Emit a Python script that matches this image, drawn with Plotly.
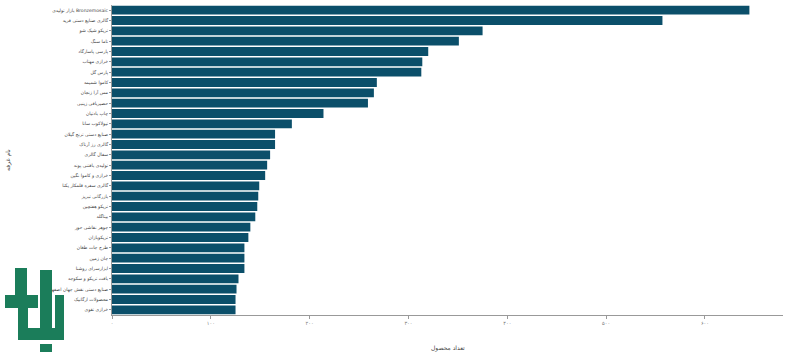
import plotly.graph_objects as go

booths = [
    "بازار تولیدی Bronzemosaic",
    "گالری صنایع دستی فرید",
    "تریکو شیک شو",
    "تاما سنگ",
    "پارسی پاسارگاد",
    "خرازی مهتاب",
    "پارس گل",
    "کاموا شمیمه",
    "مس آرا زنجان",
    "حصیربافی زینبی",
    "چاپ بادتیان",
    "تیولاکوب سانا",
    "صنایع دستی ترنج گیلان",
    "گالری رز آرتاک",
    "سفال گالری",
    "تولیدی بافتنی پونه",
    "خرازی و کاموا نگین",
    "گالری سفره قلمکار یکتا",
    "بازرگانی تبریز",
    "تریکو هفتچین",
    "بیتاگلد",
    "جوهر نقاشی حور",
    "تریکوبازان",
    "طرح جات طغان",
    "جان زمین",
    "ابزارسرای روشنا",
    "بافت تریکو و سکوجه",
    "صنایع دستی نقش جهان اصفهان",
    "محصولات ارگانیک",
    "خرازی تقوی",
]
counts = [645, 557, 375, 351, 320, 314, 313, 268, 265, 259,
          214, 182, 165, 165, 160, 157, 155, 149, 148, 147,
          145, 140, 138, 134, 134, 134, 128, 126, 125, 125]
tick_vals = [0, 100, 200, 300, 400, 500, 600]
tick_text = ["۰", "۱۰۰", "۲۰۰", "۳۰۰", "۴۰۰", "۵۰۰", "۶۰۰"]

W, H = 800, 356
ML, MR, MT, MB = 112, 17, 5, 41
PW, PH = W - ML - MR, H - MT - MB


def px_rect(x0, y0, x1, y1, color):
    # decorative watermark logo, placed in page pixels
    return dict(type="rect", xref="paper", yref="paper", layer="above",
                x0=(x0 - ML) / PW, x1=(x1 - ML) / PW,
                y0=(H - MB - y1) / PH, y1=(H - MB - y0) / PH,
                fillcolor=color, line=dict(width=0))


logo_green = "#1b7d5a"
logo = [
    px_rect(40, 270, 52, 340, logo_green),
    px_rect(55, 295, 64, 338, logo_green),
    px_rect(18, 328, 64, 340, logo_green),
    px_rect(18, 300, 28, 340, logo_green),
    px_rect(5, 295, 38, 308, logo_green),
    px_rect(15, 268, 27, 295, logo_green),
    px_rect(40, 344, 52, 352, logo_green),
]

fig = go.Figure(go.Bar(
    x=counts, y=booths, orientation="h",
    marker=dict(color="#0b4f6a", line=dict(width=0)),
))

fig.update_layout(
    width=W, height=H,
    margin=dict(l=ML, r=MR, t=MT, b=MB),
    paper_bgcolor="white", plot_bgcolor="white",
    font=dict(family="DejaVu Sans", size=5, color="#555"),
    bargap=0.15,
    showlegend=False,
    shapes=logo,
    annotations=[
        dict(text="تعداد محصول", x=0.5, y=-0.107, xref="paper", yref="paper",
             xanchor="center", yanchor="middle", showarrow=False,
             font=dict(size=6, color="#444")),
        dict(text="نام غرفه", x=-0.155, y=0.5, xref="paper", yref="paper",
             xanchor="center", yanchor="middle", showarrow=False, textangle=-90,
             font=dict(size=6, color="#444")),
    ],
)
fig.update_xaxes(
    range=[0, 679], tickvals=tick_vals, ticktext=tick_text,
    showgrid=False, zeroline=False, automargin=False,
    showline=True, linecolor="#999", linewidth=1,
    ticks="outside", ticklen=3, tickcolor="#999",
    tickfont=dict(size=5, color="#777"),
)
fig.update_yaxes(
    autorange="reversed", showgrid=False, automargin=False,
    showline=True, linecolor="#999", linewidth=1,
    ticks="outside", ticklen=2, tickcolor="#999",
    tickfont=dict(size=4.6, color="#444"),
)

fig.write_html("out.html", config={"displayModeBar": False},
               post_script="document.body.style.margin='0';")
